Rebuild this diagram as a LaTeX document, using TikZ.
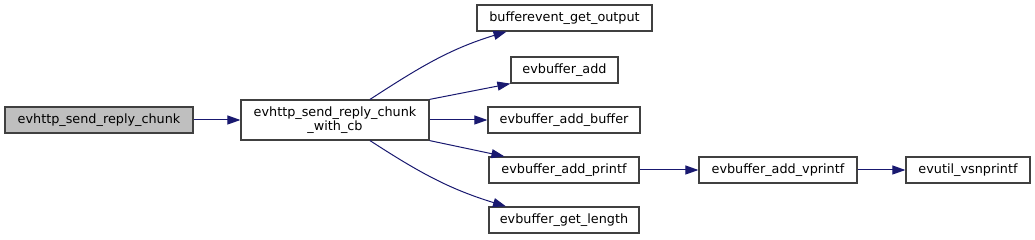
\documentclass[tikz,border=0pt]{standalone}
\usepackage{fontspec}
\setmainfont{DejaVu Sans}
\usetikzlibrary{arrows.meta}
\definecolor{edgeblue}{HTML}{191970}
\definecolor{boxline}{HTML}{404040}
\definecolor{rootfill}{HTML}{BFBFBF}
\begin{document}
\begin{tikzpicture}[x=1pt,y=1pt,
  fn/.style={draw=boxline, line width=1.2pt, fill=white, minimum height=26pt, inner sep=0pt,
    font=\fontsize{12.8}{14.5}\selectfont, text=black, align=center},
  call/.style={draw=edgeblue, line width=1pt, -{Triangle[length=13pt,width=9pt]}}]
\useasboundingbox (0,0) rectangle (1035,240);
\coordinate (PA) at (99,120);
\coordinate (PB) at (335,120);
\coordinate (PC) at (564.5,222);
\coordinate (PD) at (564.5,170);
\coordinate (PE) at (564,120);
\coordinate (PF) at (564,70);
\coordinate (PG) at (564,20);
\coordinate (PH) at (778,70);
\coordinate (PI) at (968,70);

 \node[fn, fill=rootfill, minimum width=188] (A) at (PA) {evhttp\_send\_reply\_chunk};
 \node[fn, minimum width=188, minimum height=40] (B) at (PB) {evhttp\_send\_reply\_chunk\\\_with\_cb};
 \node[fn, minimum width=175] (C) at (PC) {bufferevent\_get\_output};
 \node[fn, minimum width=107] (D) at (PD) {evbuffer\_add};
 \node[fn, minimum width=152] (E) at (PE) {evbuffer\_add\_buffer};
 \node[fn, minimum width=150] (F) at (PF) {evbuffer\_add\_printf};
 \node[fn, minimum width=150] (G) at (PG) {evbuffer\_get\_length};
 \node[fn, minimum width=158] (H) at (PH) {evbuffer\_add\_vprintf};
 \node[fn, minimum width=124] (I) at (PI) {evutil\_vsnprintf};

 \draw[call] (A) -- (B);
 \draw[call] ([xshift=35]B.north) to[out=33,in=197] ([xshift=-58]C.south);
 \draw[call] (B.north east) -- (D.south west);
 \draw[call] (B) -- (E);
 \draw[call] (B.south east) -- ([xshift=16]F.north west);
 \draw[call] ([xshift=35]B.south) to[out=-33,in=163] ([xshift=-58]G.north);
 \draw[call] (F) -- (H);
 \draw[call] (H) -- (I);

\end{tikzpicture}
\end{document}
